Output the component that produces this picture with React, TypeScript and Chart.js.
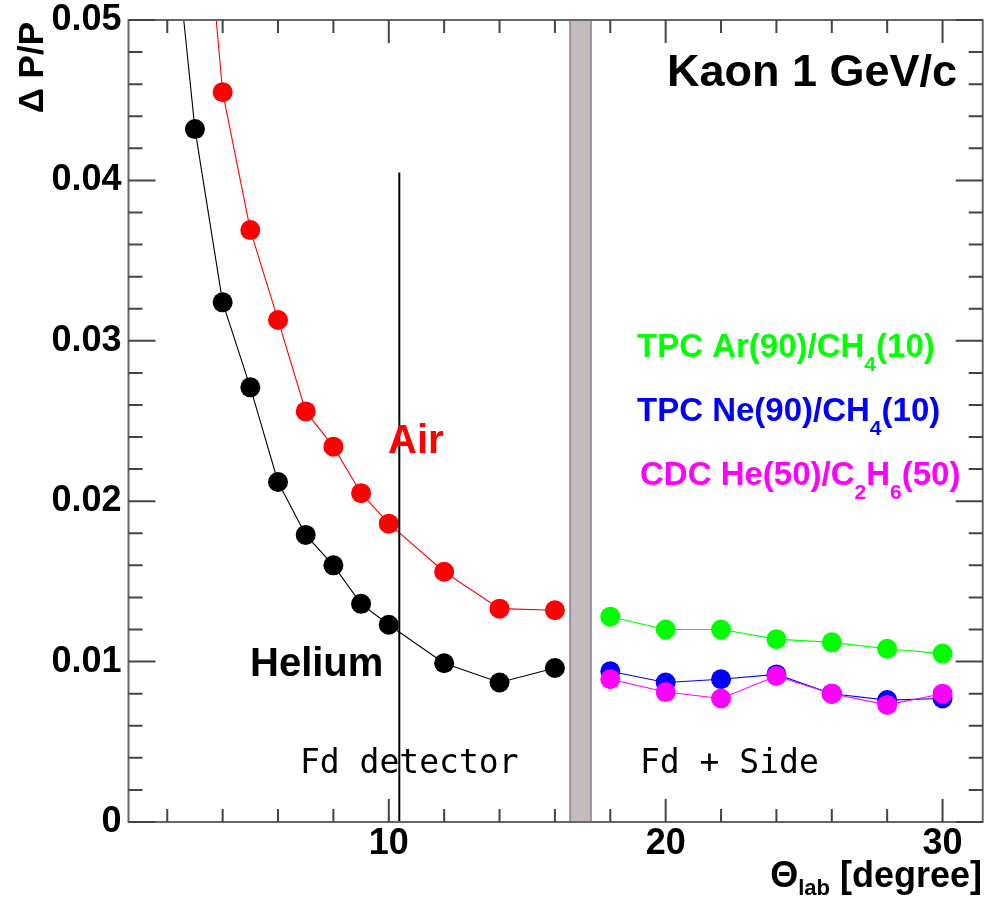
import React, { useEffect, useRef } from "react";
import { Chart, registerables } from "chart.js";

Chart.register(...registerables);

// ---- data ----
const heliumX = [2, 3, 4, 5, 6, 7, 8, 9, 10, 12, 14, 16];
const heliumY = [0.06, 0.0432, 0.0324, 0.0271, 0.0212, 0.0179, 0.016, 0.0136, 0.0123, 0.0099, 0.0087, 0.0096];
const airX = [3, 4, 5, 6, 7, 8, 9, 10, 12, 14, 16];
const airY = [0.065, 0.0455, 0.0369, 0.0313, 0.0256, 0.0234, 0.0205, 0.0186, 0.0156, 0.0133, 0.0132];
const sideX = [18, 20, 22, 24, 26, 28, 30];
const tpcArY = [0.0128, 0.012, 0.012, 0.0114, 0.0112, 0.0108, 0.0105];
const tpcNeY = [0.0094, 0.0087, 0.0089, 0.0092, 0.008, 0.0076, 0.0077];
const cdcHeY = [0.0089, 0.0081, 0.0077, 0.0091, 0.008, 0.0073, 0.008];

const xTicks = [10, 20, 30];
const xTickLabels = ["10", "20", "30"];
const yTicks = [0, 0.01, 0.02, 0.03, 0.04, 0.05];
const yTickLabels = ["0", "0.01", "0.02", "0.03", "0.04", "0.05"];

const X_MIN = 0.6;
const X_MAX = 31.45;
const Y_MIN = 0;
const Y_MAX = 0.05;

const bandStart = 16.55;
const bandEnd = 17.3;
const fdLineX = 10.38;
const fdLineTop = 0.0405;

const SANS = "'Liberation Sans', Arial, Helvetica, sans-serif";
const MONO = "'DejaVu Sans Mono', monospace";

type Seg = { t: string; sub?: boolean };

function drawSegs(ctx: CanvasRenderingContext2D, segs: Seg[], x: number, y: number, size: number, subSize: number, subDrop: number, color: string, align: "left" | "right" = "left") {
  ctx.save();
  ctx.fillStyle = color;
  ctx.textBaseline = "alphabetic";
  ctx.textAlign = "left";
  let total = 0;
  for (const s of segs) {
    ctx.font = `bold ${s.sub ? subSize : size}px ${SANS}`;
    total += ctx.measureText(s.t).width;
  }
  let cx = align === "left" ? x : x - total;
  for (const s of segs) {
    ctx.font = `bold ${s.sub ? subSize : size}px ${SANS}`;
    ctx.fillText(s.t, cx, s.sub ? y + subDrop : y);
    cx += ctx.measureText(s.t).width;
  }
  ctx.restore();
}

const decor = {
  id: "rootDecor",
  beforeDatasetsDraw(chart: any) {
    const { ctx, chartArea, scales } = chart;
    const xs = scales.x;
    const x1 = xs.getPixelForValue(bandStart);
    const x2 = xs.getPixelForValue(bandEnd);
    ctx.save();
    ctx.fillStyle = "#c4bcbc";
    ctx.fillRect(x1, chartArea.top, x2 - x1, chartArea.bottom - chartArea.top);
    ctx.strokeStyle = "#9a8ea2";
    ctx.lineWidth = 2;
    ctx.beginPath();
    ctx.moveTo(x1, chartArea.top);
    ctx.lineTo(x1, chartArea.bottom);
    ctx.moveTo(x2, chartArea.top);
    ctx.lineTo(x2, chartArea.bottom);
    ctx.stroke();
    ctx.restore();
  },
  afterDatasetsDraw(chart: any) {
    const { ctx, chartArea, scales } = chart;
    const xs = scales.x;
    const ys = scales.y;
    const { left, right, top, bottom } = chartArea;

    // vertical separator line
    ctx.save();
    ctx.strokeStyle = "#000";
    ctx.lineWidth = 2;
    ctx.beginPath();
    const lx = xs.getPixelForValue(fdLineX);
    ctx.moveTo(lx, ys.getPixelForValue(fdLineTop));
    ctx.lineTo(lx, bottom);
    ctx.stroke();
    ctx.restore();

    // frame
    ctx.save();
    ctx.strokeStyle = "#666";
    ctx.lineWidth = 2;
    ctx.strokeRect(left, top, right - left, bottom - top);

    // ticks
    ctx.strokeStyle = "#444";
    ctx.lineWidth = 2;
    ctx.beginPath();
    for (let i = 0; i <= 25; i++) {
      const v = i * 0.002;
      const py = ys.getPixelForValue(v);
      const len = i % 5 === 0 ? 27 : 14;
      ctx.moveTo(left, py);
      ctx.lineTo(left + len, py);
      ctx.moveTo(right, py);
      ctx.lineTo(right - len, py);
    }
    for (let v = 2; v <= 30; v += 2) {
      const px = xs.getPixelForValue(v);
      const len = v % 10 === 0 ? 23 : 13;
      ctx.moveTo(px, bottom);
      ctx.lineTo(px, bottom - len);
      ctx.moveTo(px, top);
      ctx.lineTo(px, top + len);
    }
    ctx.stroke();
    ctx.restore();

    // texts
    drawSegs(ctx, [{ t: "Kaon 1 GeV/c" }], 667, 86, 45, 30, 0, "#000");
    drawSegs(ctx, [{ t: "Air" }], 388, 453, 40, 30, 0, "#ff0000");
    drawSegs(ctx, [{ t: "Helium" }], 250, 676, 40, 30, 0, "#000");
    drawSegs(ctx, [{ t: "TPC Ar(90)/CH" }, { t: "4", sub: true }, { t: "(10)" }], 637, 357, 33, 21, 14, "#00ff00");
    drawSegs(ctx, [{ t: "TPC Ne(90)/CH" }, { t: "4", sub: true }, { t: "(10)" }], 637, 421, 33, 21, 14, "#0000ff");
    drawSegs(ctx, [{ t: "CDC He(50)/C" }, { t: "2", sub: true }, { t: "H" }, { t: "6", sub: true }, { t: "(50)" }], 640, 485, 33, 21, 14, "#ff00ff");

    ctx.save();
    ctx.fillStyle = "#000";
    ctx.font = `33px ${MONO}`;
    ctx.textBaseline = "alphabetic";
    ctx.textAlign = "left";
    ctx.fillText("Fd detector", 300, 773);
    ctx.fillText("Fd + Side", 640, 773);
    ctx.restore();

    // axis titles
    drawSegs(ctx, [{ t: "\u0398" }, { t: "lab", sub: true }, { t: " [degree]" }], 982, 887, 36, 22, 8, "#000", "right");

    ctx.save();
    ctx.translate(43, 22);
    ctx.rotate(-Math.PI / 2);
    ctx.fillStyle = "#000";
    ctx.font = `bold 35px ${SANS}`;
    ctx.textAlign = "right";
    ctx.textBaseline = "alphabetic";
    ctx.fillText("\u0394 P/P", 0, 0);
    ctx.restore();
  },
};

function pts(xs: number[], ys: number[]) {
  return xs.map((x, i) => ({ x, y: ys[i] }));
}

function ds(label: string, xs: number[], ys: number[], color: string) {
  return {
    label,
    data: pts(xs, ys),
    borderColor: color,
    backgroundColor: color,
    pointBackgroundColor: color,
    pointBorderWidth: 0,
    pointRadius: 10,
    borderWidth: 1.1,
    showLine: true,
    tension: 0,
  };
}

function zeroPad(s: any) {
  s.paddingLeft = 0;
  s.paddingRight = 0;
  s.paddingTop = 0;
  s.paddingBottom = 0;
}

export default function App() {
  const ref = useRef<HTMLCanvasElement | null>(null);
  useEffect(() => {
    if (!ref.current) return;
    const tickFont = { family: SANS, weight: "bold" as const, size: 36 };
    const chart = new Chart(ref.current, {
      type: "scatter",
      data: {
        datasets: [
          ds("CDC He(50)/C2H6(50)", sideX, cdcHeY, "#ff00ff"),
          ds("TPC Ne(90)/CH4(10)", sideX, tpcNeY, "#0000ff"),
          ds("TPC Ar(90)/CH4(10)", sideX, tpcArY, "#00ff00"),
          ds("Air", airX, airY, "#ff0000"),
          ds("Helium", heliumX, heliumY, "#000000"),
        ],
      },
      options: {
        animation: false,
        responsive: false,
        maintainAspectRatio: false,
        layout: { autoPadding: false, padding: { left: 0, right: 2.3, top: 20, bottom: 0 } },
        plugins: { legend: { display: false }, tooltip: { enabled: false } },
        scales: {
          x: {
            type: "linear",
            min: X_MIN,
            max: X_MAX,
            afterFit: (s: any) => {
              s.height = 78;
              zeroPad(s);
            },
            afterBuildTicks: (s: any) => {
              s.ticks = xTicks.map((v) => ({ value: v }));
            },
            grid: { display: false, drawTicks: false },
            border: { display: false },
            ticks: {
              font: tickFont,
              color: "#000",
              padding: 0,
              maxRotation: 0,
              autoSkip: false,
              callback: (v: any) => {
                const i = xTicks.indexOf(Number(v));
                return i >= 0 ? xTickLabels[i] : "";
              },
            },
          },
          y: {
            type: "linear",
            min: Y_MIN,
            max: Y_MAX,
            afterFit: (s: any) => {
              s.width = 128.5;
              zeroPad(s);
            },
            afterBuildTicks: (s: any) => {
              s.ticks = yTicks.map((v) => ({ value: v }));
            },
            grid: { display: false, drawTicks: false },
            border: { display: false },
            ticks: {
              font: tickFont,
              color: "#000",
              padding: 7,
              autoSkip: false,
              callback: (v: any) => {
                const i = yTicks.findIndex((t) => Math.abs(t - Number(v)) < 1e-9);
                return i >= 0 ? yTickLabels[i] : "";
              },
            },
          },
        },
      },
      plugins: [decor],
    });
    return () => chart.destroy();
  }, []);
  return (
    <div style={{ position: "absolute", left: 0, top: 0, width: 985, height: 900, background: "#fff" }}>
      <canvas ref={ref} width={985} height={900} style={{ width: 985, height: 900, display: "block" }} />
    </div>
  );
}
